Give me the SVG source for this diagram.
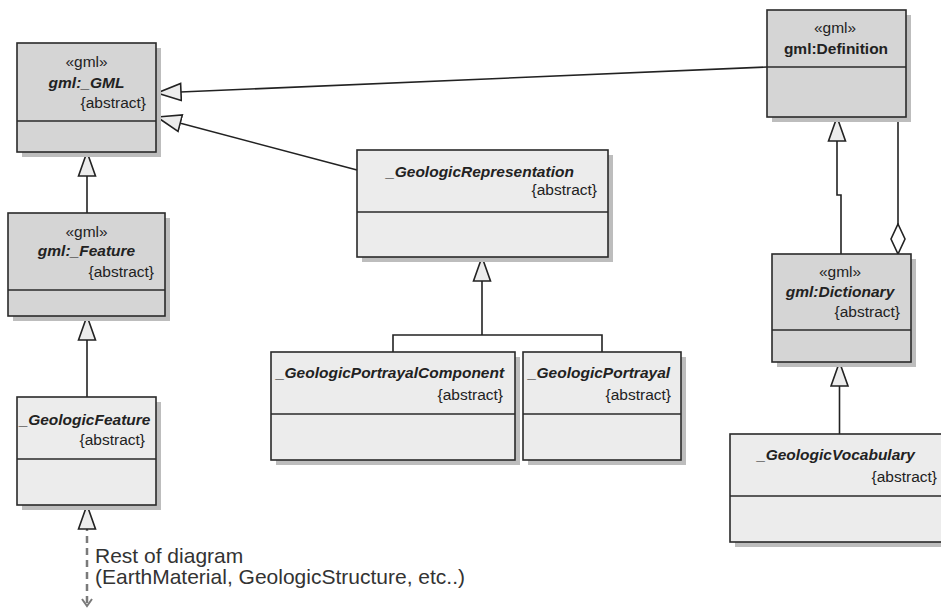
<svg xmlns="http://www.w3.org/2000/svg" width="941" height="610" viewBox="0 0 941 610">
<style>
.sh{fill:#bdbdbd;}
.bx{stroke:#2a2a2a;stroke-width:1.6;}
.g{fill:#d5d5d5;}
.l{fill:#ececec;}
.dv{stroke:#2a2a2a;stroke-width:1.6;}
text{font-family:"Liberation Sans",Arial,sans-serif;fill:#222;font-size:15.5px;}
.c{text-anchor:middle;}
.e{text-anchor:end;}
.n{font-weight:bold;font-style:italic;}
.nb{font-weight:bold;}
.con{fill:none;stroke:#222;stroke-width:1.6;}
.note{font-size:21px;fill:#333;}
</style>
<defs>
<marker id="gen" viewBox="0 0 26 20" refX="25" refY="10" markerWidth="26" markerHeight="20" markerUnits="userSpaceOnUse" orient="auto">
<path d="M1,1.5 L25,10 L1,18.5 Z" fill="#ececec" stroke="#222" stroke-width="1.6"/>
</marker>
<marker id="agg" viewBox="0 0 32 16" refX="31" refY="8" markerWidth="32" markerHeight="16" markerUnits="userSpaceOnUse" orient="auto">
<path d="M1,8 L16,1 L31,8 L16,15 Z" fill="#ffffff" stroke="#222" stroke-width="1.6"/>
</marker>
</defs>
<rect width="941" height="610" fill="#ffffff"/>

<g id="connectors">
<path class="con" d="M767,67 L157,93" marker-end="url(#gen)"/>
<path class="con" d="M357,170 L157,117" marker-end="url(#gen)"/>
<path class="con" d="M87,213 V152" marker-end="url(#gen)"/>
<path class="con" d="M87,397 V316" marker-end="url(#gen)"/>
<path d="M87,603 V530" fill="none" stroke="#7a7a7a" stroke-width="2.5" stroke-dasharray="7 5"/>
<path class="con" d="M87,530 V505" marker-end="url(#gen)"/>
<polyline points="82,599 87,606 92,599" fill="none" stroke="#7a7a7a" stroke-width="2"/>
<path class="con" d="M393,352 V335 H602 V352"/>
<path class="con" d="M482,335 V257" marker-end="url(#gen)"/>
<path class="con" d="M841,254 V195 H837 V117" marker-end="url(#gen)"/>
<path class="con" d="M898,117 V254" marker-end="url(#agg)"/>
<path class="con" d="M839.5,434 V362" marker-end="url(#gen)"/>
</g>

<g id="gml_GML">
<rect class="sh" x="22" y="48" width="139" height="109"/>
<rect class="bx g" x="17" y="43" width="139" height="109"/>
<line class="dv" x1="17" y1="121" x2="156" y2="121"/>
<text class="c" x="86.5" y="67">«gml»</text>
<text class="c n" x="86.5" y="88">gml:_GML</text>
<text class="e" x="146" y="108">{abstract}</text>
</g>

<g id="gml_Feature">
<rect class="sh" x="13" y="218" width="157" height="103"/>
<rect class="bx g" x="8" y="213" width="157" height="103"/>
<line class="dv" x1="8" y1="290" x2="165" y2="290"/>
<text class="c" x="86.5" y="237">«gml»</text>
<text class="c n" x="86.5" y="256">gml:_Feature</text>
<text class="e" x="154" y="277">{abstract}</text>
</g>

<g id="GeologicFeature">
<rect class="sh" x="22" y="402" width="139" height="108"/>
<rect class="bx l" x="17" y="397" width="139" height="108"/>
<line class="dv" x1="17" y1="459" x2="156" y2="459"/>
<text class="c n" x="85" y="425">_GeologicFeature</text>
<text class="e" x="145" y="445">{abstract}</text>
</g>

<g id="rest_note">
<text class="note" x="95" y="563">Rest of diagram</text>
<text class="note" x="95" y="584">(EarthMaterial, GeologicStructure, etc..)</text>
</g>

<g id="GeologicRepresentation">
<rect class="sh" x="362" y="155" width="251" height="107"/>
<rect class="bx l" x="357" y="150" width="251" height="107"/>
<line class="dv" x1="357" y1="212" x2="608" y2="212"/>
<text class="c n" x="480" y="177">_GeologicRepresentation</text>
<text class="e" x="597" y="195">{abstract}</text>
</g>

<g id="GeologicPortrayalComponent">
<rect class="sh" x="276" y="357" width="244" height="108"/>
<rect class="bx l" x="271" y="352" width="244" height="108"/>
<line class="dv" x1="271" y1="414" x2="515" y2="414"/>
<text class="c n" x="390" y="378">_GeologicPortrayalComponent</text>
<text class="e" x="503" y="400">{abstract}</text>
</g>

<g id="GeologicPortrayal">
<rect class="sh" x="528" y="357" width="158" height="108"/>
<rect class="bx l" x="523" y="352" width="158" height="108"/>
<line class="dv" x1="523" y1="414" x2="681" y2="414"/>
<text class="c n" x="599" y="378">_GeologicPortrayal</text>
<text class="e" x="671" y="400">{abstract}</text>
</g>

<g id="gml_Definition">
<rect class="sh" x="772" y="15" width="139" height="107"/>
<rect class="bx g" x="767" y="10" width="139" height="107"/>
<line class="dv" x1="767" y1="67" x2="906" y2="67"/>
<text class="c" x="835" y="33">«gml»</text>
<text class="c nb" x="836" y="54">gml:Definition</text>
</g>

<g id="gml_Dictionary">
<rect class="sh" x="777" y="259" width="139" height="108"/>
<rect class="bx g" x="772" y="254" width="139" height="108"/>
<line class="dv" x1="772" y1="330" x2="911" y2="330"/>
<text class="c" x="840" y="277">«gml»</text>
<text class="c n" x="840" y="297">gml:Dictionary</text>
<text class="e" x="900" y="317">{abstract}</text>
</g>

<g id="GeologicVocabulary">
<rect class="sh" x="735" y="439" width="220" height="108"/>
<rect class="bx l" x="730" y="434" width="220" height="108"/>
<line class="dv" x1="730" y1="496" x2="950" y2="496"/>
<text class="c n" x="836" y="460">_GeologicVocabulary</text>
<text class="e" x="937" y="482">{abstract}</text>
</g>
</svg>
